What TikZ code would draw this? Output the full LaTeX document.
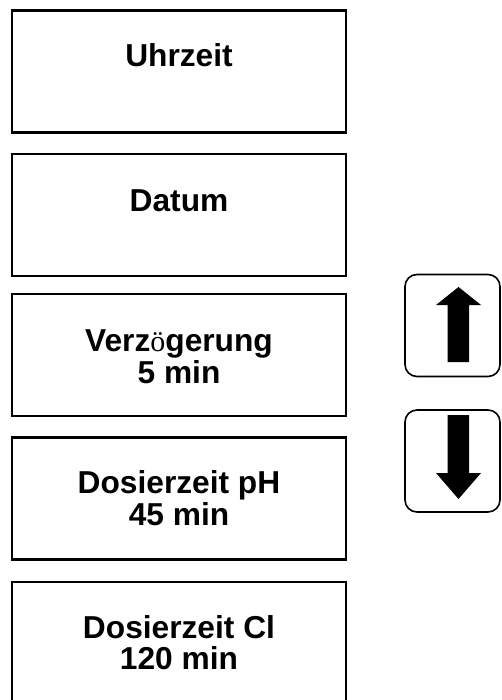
\documentclass[tikz,border=0pt]{standalone}
\usepackage{fontspec}
\setmainfont{Liberation Sans}
\newfontfamily\oefont{Liberation Serif}
\begin{document}
\begin{tikzpicture}[x=1pt,y=-1pt,
  box/.style={draw=black,line width=2.6pt,rectangle,minimum width=334pt,minimum height=122pt,inner sep=0pt},
  btn/.style={draw=black,line width=1.6pt,rectangle,rounded corners=12pt,minimum width=95pt,minimum height=102pt,inner sep=0pt},
  lbl/.style={font=\fontsize{31.7}{32}\selectfont\bfseries,anchor=base,inner sep=0pt},
  arrowshape/.style={fill=black,draw=none}]
\useasboundingbox (0,0) rectangle (501,700);
\fill[white] (0,0) rectangle (501,700);
% left boxes
\node[box] (b1) at (179,71.5) {};
\node[box] (b2) at (179,215) {};
\node[box] (b3) at (179,355) {};
\node[box] (b4) at (179,498.5) {};
\node[box] (b5) at (179,643) {};
% texts
\node[lbl] (t1) at (179,67) {Uhrzeit};
\node[lbl] (t2) at (179,212) {Datum};
\node[lbl] (t3a) at (179,351) {Verz{\oefont\mdseries\fontsize{30}{32}\selectfont ö}gerung};
\node[lbl] (t3b) at (179,383) {5 min};
\node[lbl] (t4a) at (179,493) {Dosierzeit pH};
\node[lbl] (t4b) at (179,525) {45 min};
\node[lbl] (t5a) at (179,638) {Dosierzeit Cl};
\node[lbl] (t5b) at (179,669) {120 min};
% buttons
\node[btn] (up) at (452.5,325.5) {};
\node[btn] (down) at (452.5,461) {};
% arrows
\fill[arrowshape] (458.5,287) -- (481,305) -- (469,305) -- (469,362) -- (447.5,362) -- (447.5,305) -- (436,305) -- cycle;
\fill[arrowshape] (458.5,499) -- (481,473) -- (469,473) -- (469,415) -- (447.5,415) -- (447.5,473) -- (436,473) -- cycle;
\end{tikzpicture}
\end{document}
